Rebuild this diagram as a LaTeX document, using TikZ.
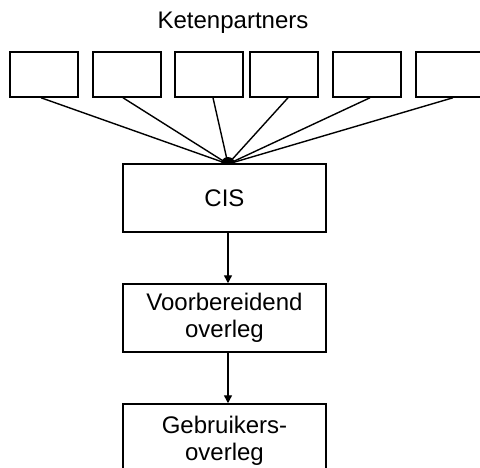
\documentclass[tikz,border=0pt]{standalone}
\usepackage{fontspec}
\setmainfont{Liberation Sans}
\usetikzlibrary{arrows.meta}
\begin{document}
\begin{tikzpicture}[x=1pt,y=-1pt,
  every node/.style={font=\fontsize{24pt}{27pt}\selectfont},
  partner/.style={draw, line width=1.5pt, minimum width=68pt, minimum height=45pt, inner sep=0pt},
  stage/.style={draw, line width=1.5pt, fill=white, minimum width=203pt, inner sep=0pt, align=center},
  link/.style={line width=1.4pt},
  flow/.style={line width=1.4pt, -{Triangle[length=8pt,width=8pt]}}]
  \useasboundingbox (0,0) rectangle (480,467);
  \clip (0,0) rectangle (480,467);

  % title
  \node[anchor=base] (title) at (233,28) {Ketenpartners};

  % partner boxes
  \node[partner] (p1) at (44,74.5) {};
  \node[partner] (p2) at (127,74.5) {};
  \node[partner] (p3) at (209,74.5) {};
  \node[partner] (p4) at (284,74.5) {};
  \node[partner] (p5) at (367,74.5) {};
  \node[partner] (p6) at (450,74.5) {};

  % convergence point on top of CIS
  \coordinate (hub) at (228,164);
  \fill (hub) circle[radius=7pt];

  \draw[link] ([xshift=-3pt]p1.south) -- (hub);
  \draw[link] ([xshift=-4pt]p2.south) -- (hub);
  \draw[link] ([xshift=4pt]p3.south) -- (hub);
  \draw[link] ([xshift=4pt]p4.south) -- (hub);
  \draw[link] ([xshift=3pt]p5.south) -- (hub);
  \draw[link] ([xshift=3pt]p6.south) -- (hub);

  % chain of stages
  \node[stage, minimum height=68pt] (cis) at (224.5,198) {CIS};
  \node[stage, minimum height=68pt] (vo) at (224.5,318) {Voorbereidend\\overleg};
  \node[stage, minimum height=73pt] (go) at (224.5,440.5) {Gebruikers-\\overleg};

  \draw[flow] (cis.south -| hub) -- (vo.north -| hub);
  \draw[flow] (vo.south -| hub) -- (go.north -| hub);
\end{tikzpicture}
\end{document}
